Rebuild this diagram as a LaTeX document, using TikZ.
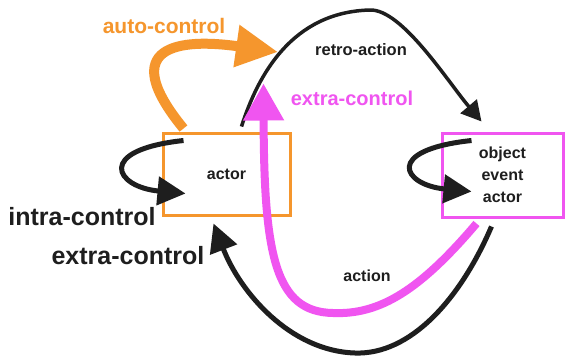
\documentclass[tikz,border=0pt]{standalone}
\usepackage{fontspec}
\setmainfont{Liberation Sans}
\usetikzlibrary{arrows.meta,calc}
\definecolor{orng}{RGB}{245,150,45}
\definecolor{mgnt}{RGB}{240,85,240}
\definecolor{ink}{RGB}{30,30,30}
\begin{document}
\begin{tikzpicture}[x=1pt,y=-1pt,
  box/.style={draw,line width=3pt,inner sep=0pt,align=center,font=\fontsize{16}{22}\selectfont\bfseries,text=ink},
  lbl/.style={font=\bfseries,text=ink,inner sep=0pt},
  blk/.style={draw=ink,line width=5pt,-{Triangle[length=28pt,width=28pt]}},
]
\useasboundingbox (0,0) rectangle (566,360);
\fill[white] (0,0) rectangle (566,360);
% boxes
\node[box,draw=orng,minimum width=127pt,minimum height=82pt] (actorbox) at (226.5,174) {actor};
\node[box,draw=mgnt,minimum width=121pt,minimum height=84pt] (objbox) at (502.5,175) {object\\event\\actor};
% anchor coordinates
\coordinate (aoS) at ($(actorbox.north west)+(22,-3)$);
\coordinate (raS) at ($(actorbox.north west)+(80,-5)$);
\coordinate (raE) at ($(objbox.north west)+(41,-10)$);
\coordinate (icS) at ($(actorbox.north west)+(22,9)$);
\coordinate (icE) at ($(actorbox.north west)+(24,62)$);
\coordinate (ocS) at ($(objbox.north west)+(31,9)$);
\coordinate (ocE) at ($(objbox.north west)+(31,60)$);
\coordinate (mgS) at ($(objbox.south west)+(36,5)$);
\coordinate (mgE) at ($(actorbox.north west)+(102,-48)$);
\coordinate (acS) at ($(objbox.south west)+(51,8)$);
\coordinate (acE) at ($(actorbox.south west)+(52,7)$);
% auto-control (orange)
\draw[orng,line width=10pt,-{Triangle[length=42pt,width=40pt]}]
  (aoS) .. controls (115,45) and (180,38) .. (278,52);
\node[lbl,text=orng,font=\fontsize{21}{24}\selectfont\bfseries] (lauto) at (164,26) {auto-control};
% retro-action
\draw[ink,line width=3.5pt,-{Triangle[length=20pt,width=21pt]}]
  (raS) .. controls (258,75) and (292,12) .. (370,10)
        .. controls (402,9) and (448,82) .. (raE);
\node[lbl,font=\fontsize{16.5}{20}\selectfont\bfseries] (lretro) at (361,50) {retro-action};
% action (black, bottom)
\draw[ink,line width=5pt,-{Triangle[length=28pt,width=28pt]}]
  (acS) .. controls (460,300) and (410,355) .. (355,353)
        .. controls (290,351) and (240,292) .. (acE);
\node[lbl,font=\fontsize{16}{20}\selectfont\bfseries] (laction) at (367,276) {action};
% extra-control (magenta)
\draw[mgnt,line width=8pt,-{Triangle[length=37pt,width=39pt]}]
  (mgS) .. controls (420,290) and (380,315) .. (333,313)
        .. controls (275,312) and (264,255) .. (mgE);
\node[lbl,text=mgnt,font=\fontsize{20}{24}\selectfont\bfseries] (lextram) at (352,98) {extra-control};
% intra-control loops
\draw[blk] (icS) .. controls (95,150) and (115,187) .. (icE);
\draw[blk] (ocS) .. controls (383,150) and (403,185) .. (ocE);
\node[lbl,font=\fontsize{25}{28}\selectfont\bfseries] (lintra) at (82,217) {intra-control};
\node[lbl,font=\fontsize{25}{28}\selectfont\bfseries] (lextra) at (128,256) {extra-control};
\end{tikzpicture}
\end{document}
